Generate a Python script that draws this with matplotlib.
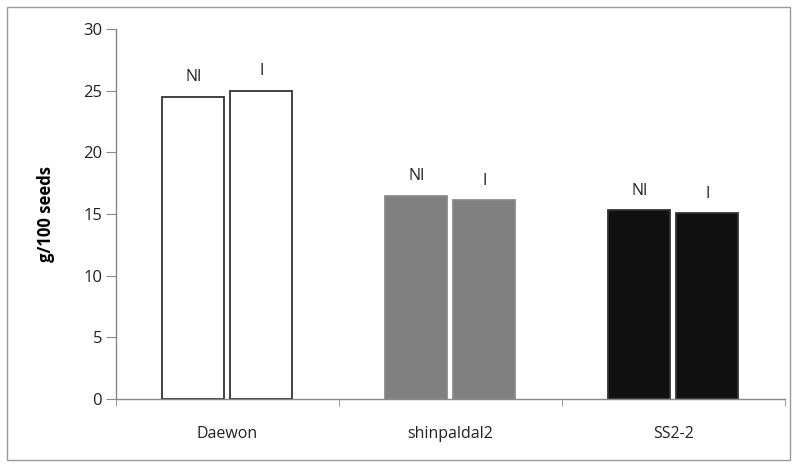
import numpy as np
import matplotlib.pyplot as plt
from matplotlib.patches import Rectangle

# values
cultivars = ["Daewon", "shinpaldal2", "SS2-2"]
ni_values = [24.5, 16.5, 15.3]
i_values = [25.0, 16.1, 15.05]
face_colors = ["#ffffff", "#808080", "#111111"]
edge_colors = ["#333333", "#8a8a8a", "#333333"]


def main():
    plt.rcParams['font.family'] = ['Open Sans', 'DejaVu Sans']
    fig = plt.figure(figsize=(7.97, 4.65), dpi=100)
    ax = fig.add_axes([0.1455, 0.1419, 0.8394, 0.7957])

    x = np.arange(len(cultivars))
    width = 0.278
    gap = 0.0135
    ni_pos = x - width / 2 - gap
    i_pos = x + width / 2 + gap

    ax.bar(ni_pos, ni_values, width, color=face_colors, edgecolor=edge_colors, linewidth=1.3)
    ax.bar(i_pos, i_values, width, color=face_colors, edgecolor=edge_colors, linewidth=1.3)

    for xp, v in zip(ni_pos, ni_values):
        ax.annotate("NI", (xp, v), xytext=(0, 14), textcoords="offset points",
                    ha="center", va="center", fontsize=11.5, color="#222222")
    for xp, v in zip(i_pos, i_values):
        ax.annotate("I", (xp, v), xytext=(0, 14), textcoords="offset points",
                    ha="center", va="center", fontsize=11.5, color="#222222")

    ax.set_xlim(-0.5, len(cultivars) - 0.5)
    ax.set_ylim(0, 30)
    ax.set_yticks(np.arange(0, 31, 5))
    ax.set_xticks(x)
    ax.set_xticklabels(cultivars)
    ax.set_xticks(np.arange(-0.5, len(cultivars), 1.0), minor=True)
    ax.tick_params(axis="x", which="major", length=0, pad=19.5, labelsize=11.5,
                   labelcolor="#222222")
    ax.tick_params(axis="x", which="minor", length=5, color="#888888", direction="out")
    ax.tick_params(axis="y", length=7, color="#888888", pad=3, labelsize=12,
                   labelcolor="#222222")

    for side in ["top", "right"]:
        ax.spines[side].set_visible(False)
    for side in ["left", "bottom"]:
        ax.spines[side].set_color("#888888")
        ax.spines[side].set_linewidth(1.0)

    ax.set_ylabel("g/100 seeds", fontweight="bold", fontsize=12, labelpad=20)

    # outer chart border
    fig.patches.append(Rectangle((7 / 797, 5 / 465), 783 / 797, 453 / 465,
                                 transform=fig.transFigure, fill=False,
                                 edgecolor="#999999", linewidth=1.0))

    fig.savefig("out.png", dpi=100)


main()
